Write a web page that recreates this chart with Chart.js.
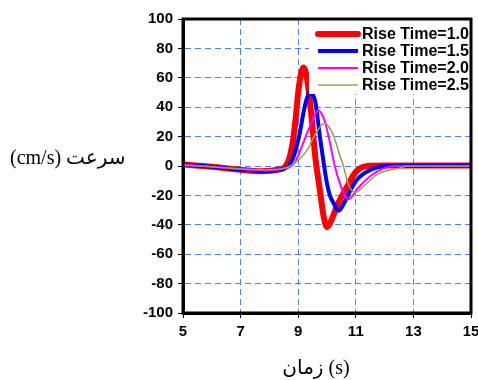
<!DOCTYPE html>
<html>
<head>
<meta charset="utf-8">
<script src="https://cdn.jsdelivr.net/npm/chart.js@4"></script>
<style>
  html, body { margin: 0; padding: 0; background: #fff; }
  #wrap { width: 478px; height: 380px; }
</style>
</head>
<body>
<div id="wrap"><canvas id="chart" width="478" height="380"></canvas></div>
<script>
// Series labels
const seriesNames = ['Rise Time=1.0', 'Rise Time=1.5', 'Rise Time=2.0', 'Rise Time=2.5'];

// Rise time 1.0 (red)
const xRed = [5, 6, 7, 7.7, 8.3, 8.65, 8.8, 8.9, 9.0, 9.1, 9.18, 9.3, 9.45, 9.6, 9.75, 9.88, 10.0, 10.15, 10.35, 10.7, 11.0, 11.4, 12, 15];
const yRed = [1, -0.5, -2.5, -3.5, -2.5, 3, 15, 30, 50, 63, 67, 60, 36, 5, -16, -34, -41.5, -37, -27, -14, -4, 0, 0.3, 0.3];

// Rise time 1.5 (blue)
const xBlue = [5, 6, 7, 7.8, 8.4, 8.7, 8.9, 9.06, 9.2, 9.3, 9.43, 9.52, 9.6, 9.76, 9.9, 10.0, 10.1, 10.22, 10.4, 10.6, 10.8, 11.03, 11.5, 12.1, 15];
const yBlue = [1, -0.5, -2.5, -3.5, -2.5, 1, 10, 23, 38, 46, 51, 48, 43, 19, 0, -12, -20, -25, -30.5, -25, -17, -9.5, -2.7, 0, 0.3];

// Rise time 2.0 (magenta)
const xMag = [5, 6, 7, 7.8, 8.4, 8.83, 9.0, 9.18, 9.32, 9.47, 9.6, 9.7, 9.8, 9.93, 10.1, 10.27, 10.45, 10.6, 10.74, 10.9, 11.03, 11.5, 11.96, 12.4, 15];
const yMag = [1, -0.5, -2, -3, -2, 1, 7, 16, 23, 30, 36, 38, 36, 30, 16, 0, -12, -19, -22.5, -20, -16, -7, -1.6, 0, 0];

// Rise time 2.5 (olive)
const xOlive = [5, 6, 7, 7.8, 8.4, 8.72, 9.0, 9.18, 9.35, 9.52, 9.7, 9.85, 9.93, 10.05, 10.22, 10.45, 10.57, 10.7, 10.85, 11.0, 11.26, 11.72, 12.19, 12.5, 12.8, 15];
const yOlive = [0.5, -0.5, -2, -2.5, -2, 0, 4, 7.4, 12, 19, 25, 28.5, 29, 27, 21, 7, 0, -10, -16.5, -18, -14, -6, -2.7, -1.6, 0, 0];

// Axis ranges / tick steps
const xRange = [5, 15];
const yRange = [-100, 100];
const xStep = 2;
const yStep = 20;

const xTitle = 'زمان (s)';
const yTitle = '(cm/s) سرعت';

function pairs(xs, ys) {
    return xs.map((x, i) => ({ x: x, y: ys[i] }));
}

const styles = [
    { color: '#ff0000', width: 6 },
    { color: '#0000ff', width: 4 },
    { color: '#ff00ff', width: 2 },
    { color: '#9c9c50', width: 1.5 }
];
const seriesData = [pairs(xRed, yRed), pairs(xBlue, yBlue), pairs(xMag, yMag), pairs(xOlive, yOlive)];

// draw order: thin lines on top like the reference
const datasets = seriesData.map((d, i) => ({
    label: seriesNames[i],
    data: d,
    borderColor: styles[i].color,
    borderWidth: styles[i].width,
    pointRadius: 0,
    fill: false,
    cubicInterpolationMode: 'monotone',
    order: 3 - i
}));

const tickFont = { family: "'Liberation Sans', Arial, sans-serif", size: 15, weight: 'bold' };
const gridBlue = '#4a7dff';

// Frame, legend box and the two titles
const decorations = {
    id: 'decorations',
    afterDraw(chart) {
        const ctx = chart.ctx;
        const a = chart.chartArea;
        ctx.save();

        // legend
        ctx.fillStyle = '#fff';
        ctx.fillRect(309, a.top + 1, a.right - 310, 74);
        ctx.font = "bold 16px 'Liberation Sans', Arial, sans-serif";
        ctx.textBaseline = 'middle';
        ctx.textAlign = 'left';
        seriesNames.forEach((name, i) => {
            const y = 34 + i * 17;
            ctx.strokeStyle = styles[i].color;
            ctx.lineWidth = styles[i].width;
            ctx.lineCap = i === 0 ? 'round' : 'butt';
            ctx.beginPath();
            ctx.moveTo(318, y);
            ctx.lineTo(358, y);
            ctx.stroke();
            ctx.fillStyle = '#000';
            ctx.fillText(name, 362, y + 1);
        });

        // frame
        ctx.strokeStyle = '#000';
        ctx.lineWidth = 3;
        ctx.lineCap = 'butt';
        ctx.strokeRect(a.left, a.top, a.right - a.left, a.bottom - a.top);

        // titles
        ctx.fillStyle = '#000';
        ctx.font = "20px 'Liberation Serif', 'DejaVu Sans', serif";
        ctx.textAlign = 'left';
        ctx.fillText(yTitle, 10, 159);
        ctx.textAlign = 'center';
        ctx.fillText(xTitle, 316, 369);
        ctx.restore();
    }
};

new Chart(document.getElementById('chart'), {
    type: 'line',
    data: { datasets: datasets },
    options: {
        responsive: false,
        animation: false,
        events: [],
        layout: { padding: { left: 0, top: 19, right: 7, bottom: 0 } },
        plugins: {
            legend: { display: false },
            tooltip: { enabled: false }
        },
        scales: {
            x: {
                type: 'linear',
                min: xRange[0],
                max: xRange[1],
                ticks: {
                    stepSize: xStep,
                    font: tickFont,
                    color: '#000',
                    padding: 5,
                    maxRotation: 0
                },
                grid: {
                    color: gridBlue,
                    lineWidth: 1,
                    tickColor: '#000',
                    tickLength: 5,
                    tickWidth: 1
                },
                border: { color: '#000', width: 3, dash: [6, 4] },
                afterFit(scale) {
                    scale.height = 67;
                    scale.paddingLeft = 0;
                    scale.paddingRight = 0;
                }
            },
            y: {
                min: yRange[0],
                max: yRange[1],
                ticks: {
                    stepSize: yStep,
                    font: tickFont,
                    color: '#000',
                    padding: 5
                },
                grid: {
                    color: gridBlue,
                    lineWidth: 1,
                    tickColor: '#000',
                    tickLength: 5,
                    tickWidth: 1
                },
                border: { color: '#000', width: 3, dash: [6, 4] },
                afterFit(scale) {
                    scale.width = 183;
                    scale.paddingTop = 0;
                    scale.paddingBottom = 0;
                }
            }
        }
    },
    plugins: [decorations]
});
</script>
</body>
</html>
